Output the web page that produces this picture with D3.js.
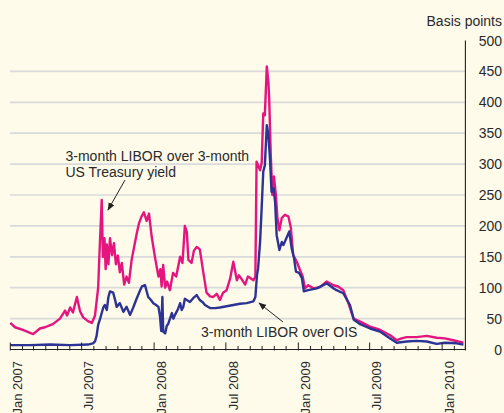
<!DOCTYPE html>
<html>
<head>
<meta charset="utf-8">
<script src="https://cdn.jsdelivr.net/npm/d3@7"></script>
<style>
    body { margin: 0; background: #fefbea; }
    svg { display: block; font-family: "Liberation Sans", Arial, sans-serif; }
</style>
</head>
<body>
<script>
// 3-month LIBOR over 3-month US Treasury yield (pink)
var tedDates = ["2007-01-01","2007-01-13","2007-01-31","2007-02-28","2007-03-17","2007-03-30","2007-04-19","2007-05-07","2007-05-20","2007-05-25",
    "2007-06-02","2007-06-09","2007-06-19","2007-06-27","2007-07-05","2007-07-17","2007-07-27","2007-08-04","2007-08-12","2007-08-15",
    "2007-08-21","2007-08-24","2007-08-28","2007-08-31","2007-09-03","2007-09-07","2007-09-11","2007-09-16","2007-09-21","2007-09-26",
    "2007-10-01","2007-10-06","2007-10-11","2007-10-17","2007-10-23","2007-10-29","2007-11-05","2007-11-11","2007-11-18","2007-11-24",
    "2007-11-30","2007-12-06","2007-12-13","2007-12-19","2007-12-26","2008-01-03","2008-01-12","2008-01-17","2008-01-20","2008-01-24",
    "2008-01-29","2008-02-03","2008-02-10","2008-02-18","2008-02-26","2008-03-07","2008-03-13","2008-03-19","2008-03-24","2008-03-28",
    "2008-04-05","2008-04-11","2008-04-18","2008-04-26","2008-05-05","2008-05-13","2008-05-22","2008-05-30","2008-06-08","2008-06-16",
    "2008-06-24","2008-07-03","2008-07-12","2008-07-20","2008-07-29","2008-08-03","2008-08-10","2008-08-19","2008-08-26","2008-08-31",
    "2008-09-09","2008-09-14","2008-09-17","2008-09-21","2008-09-26","2008-09-30","2008-10-04","2008-10-08","2008-10-13","2008-10-17",
    "2008-10-19","2008-10-23","2008-10-27","2008-10-31","2008-11-05","2008-11-09","2008-11-14","2008-11-20","2008-11-28","2008-12-07",
    "2008-12-13","2008-12-19","2008-12-28","2009-01-05","2009-01-12","2009-01-18","2009-01-26","2009-02-08","2009-02-25","2009-03-14",
    "2009-03-31","2009-04-12","2009-04-25","2009-05-08","2009-05-21","2009-06-07","2009-07-02","2009-07-27","2009-08-22","2009-09-08",
    "2009-09-20","2009-10-03","2009-10-28","2009-11-23","2009-12-18","2010-01-08","2010-01-29","2010-02-24"];
var tedValues = [43,36,32,25,34,36,41,50,63,55,
    68,60,85,62,52,46,43,55,100,150,
    242,150,180,130,170,138,180,153,172,138,
    152,125,140,105,118,108,145,165,188,205,
    215,222,208,220,182,150,118,130,102,137,
    100,110,96,124,118,150,140,200,190,145,
    140,160,166,162,124,92,86,85,90,80,
    92,96,115,142,112,120,114,105,118,116,
    112,118,304,298,290,302,382,379,458,433,
    407,315,250,280,250,213,193,213,218,215,
    197,153,142,129,118,99,104,99,101,110,
    104,102,96,75,50,45,37,32,23,15,
    18,20,20,22,19,18,15,11];

// 3-month LIBOR over OIS (blue)
var oisDates = ["2007-01-01","2007-02-20","2007-04-12","2007-06-02","2007-07-17","2007-07-30","2007-08-04","2007-08-08","2007-08-12","2007-08-17",
    "2007-08-21","2007-08-25","2007-08-29","2007-09-03","2007-09-07","2007-09-11","2007-09-19","2007-09-24","2007-09-28","2007-10-06",
    "2007-10-15","2007-10-23","2007-11-01","2007-11-09","2007-11-18","2007-11-26","2007-12-01","2007-12-09","2007-12-17","2007-12-24",
    "2007-12-30","2008-01-06","2008-01-12","2008-01-16","2008-01-19","2008-01-22","2008-01-24","2008-01-29","2008-02-02","2008-02-06",
    "2008-02-15","2008-02-19","2008-02-23","2008-03-02","2008-03-07","2008-03-11","2008-03-15","2008-03-19","2008-03-24","2008-04-01",
    "2008-04-09","2008-04-18","2008-04-26","2008-05-04","2008-05-09","2008-05-22","2008-06-04","2008-06-16","2008-07-03","2008-07-20",
    "2008-08-06","2008-08-23","2008-09-09","2008-09-14","2008-09-18","2008-09-21","2008-09-26","2008-09-30","2008-10-04","2008-10-08",
    "2008-10-13","2008-10-17","2008-10-21","2008-10-25","2008-10-30","2008-11-03","2008-11-07","2008-11-14","2008-11-20","2008-11-24",
    "2008-12-03","2008-12-09","2008-12-15","2008-12-21","2008-12-26","2009-01-03","2009-01-10","2009-01-15","2009-01-26","2009-02-17",
    "2009-03-14","2009-03-31","2009-04-08","2009-04-25","2009-05-12","2009-05-22","2009-06-07","2009-07-02","2009-07-27","2009-08-22",
    "2009-09-08","2009-10-03","2009-10-28","2009-11-23","2009-12-18","2010-01-08","2010-02-07","2010-02-24"];
var oisValues = [7,7,8,7,8,10,13,22,40,50,
    59,68,72,64,85,94,92,80,69,75,
    61,69,56,68,83,95,102,104,85,80,
    75,72,69,53,30,85,29,26,38,42,
    59,50,56,66,75,64,69,82,80,77,
    83,88,80,76,72,67,67,68,70,72,
    74,75,78,85,120,132,175,230,288,298,
    363,347,309,255,261,239,185,161,174,169,
    182,191,164,148,126,124,116,94,96,99,
    107,99,96,91,72,48,41,34,29,18,
    11,13,14,13,9,11,10,8];

var yTicks = [0,50,100,150,200,250,300,350,400,450,500];
var xLabelDates = ["2007-01-01","2007-07-01","2008-01-01","2008-07-01","2009-01-01","2009-07-01","2010-01-01"];
var xLabels = ["Jan 2007","Jul 2007","Jan 2008","Jul 2008","Jan 2009","Jul 2009","Jan 2010"];

function init(){
    var w = 504;
    var h = 413;
    var parse = d3.utcParse("%Y-%m-%d");

    var x = d3.scaleUtc()
        .domain([parse("2007-01-01"), parse("2010-03-01")])
        .range([10.3, 465.4]);
    var y = d3.scaleLinear()
        .domain([0, 500])
        .range([349.5, 40.5]);

    var svg = d3.select("body")
        .append("svg")
        .attr("width", w)
        .attr("height", h);

    svg.append("rect").attr("width", w).attr("height", h).attr("fill", "#fefbea");

    // gridlines (no line at 0 or 500)
    svg.selectAll("line.grid")
        .data(yTicks.filter(function(d){ return d > 0 && d < 500; }))
        .enter()
        .append("line")
        .attr("class", "grid")
        .attr("x1", 10)
        .attr("x2", 465.4)
        .attr("y1", function(d){ return y(d); })
        .attr("y2", function(d){ return y(d); })
        .attr("stroke", "#d9dadb")
        .attr("stroke-width", 1.7);

    // y labels on the right
    svg.selectAll("text.ylab")
        .data(yTicks)
        .enter()
        .append("text")
        .attr("class", "ylab")
        .attr("x", 502)
        .attr("y", function(d){ return y(d); })
        .attr("dy", "0.36em")
        .attr("text-anchor", "end")
        .attr("font-size", 14)
        .attr("fill", "#2a2a2a")
        .text(function(d){ return d; });

    svg.append("text")
        .attr("x", 502)
        .attr("y", 26)
        .attr("text-anchor", "end")
        .attr("font-size", 14)
        .attr("fill", "#2a2a2a")
        .text("Basis points");

    // series
    var tedData = tedDates.map(function(d, i){ return {date: parse(d), value: tedValues[i]}; });
    var oisData = oisDates.map(function(d, i){ return {date: parse(d), value: oisValues[i]}; });

    var line = d3.line()
        .x(function(d){ return x(d.date); })
        .y(function(d){ return y(d.value); });

    svg.append("path")
        .datum(tedData)
        .attr("d", line)
        .attr("fill", "none")
        .attr("stroke", "#e5157f")
        .attr("stroke-width", 2.4)
        .attr("stroke-linejoin", "round");

    svg.append("path")
        .datum(oisData)
        .attr("d", line)
        .attr("fill", "none")
        .attr("stroke", "#2c3393")
        .attr("stroke-width", 2.4)
        .attr("stroke-linejoin", "round");

    // axes
    svg.append("line")
        .attr("x1", x.range()[1]).attr("x2", x.range()[1])
        .attr("y1", y(500)).attr("y2", y(0))
        .attr("stroke", "#222").attr("stroke-width", 1.1);
    svg.append("line")
        .attr("x1", x.range()[0]).attr("x2", x.range()[1])
        .attr("y1", y(0)).attr("y2", y(0))
        .attr("stroke", "#222").attr("stroke-width", 1.2);

    var months = d3.utcMonth.range(parse("2007-01-01"), parse("2010-03-02"));
    svg.selectAll("line.xtick")
        .data(months)
        .enter()
        .append("line")
        .attr("class", "xtick")
        .attr("x1", function(d){ return x(d); })
        .attr("x2", function(d){ return x(d); })
        .attr("y1", function(d){ return d.getUTCMonth() % 6 == 0 ? y(0) - 7 : y(0) - 3.5; })
        .attr("y2", y(0) + 1)
        .attr("stroke", "#222")
        .attr("stroke-width", 1);

    // rotated month labels, the bottom of each is clipped as in the original
    svg.selectAll("text.xlab")
        .data(xLabels)
        .enter()
        .append("text")
        .attr("class", "xlab")
        .attr("transform", function(d, i){ return "translate(" + (x(parse(xLabelDates[i])) + 7) + ",361) rotate(-90)"; })
        .attr("dy", "0.36em")
        .attr("text-anchor", "end")
        .attr("font-size", 13)
        .attr("fill", "#2a2a2a")
        .text(function(d){ return d; });

    // annotations
    var defs = svg.append("defs");
    defs.append("marker")
        .attr("id", "arr")
        .attr("viewBox", "0 0 10 10")
        .attr("refX", 9).attr("refY", 5)
        .attr("markerWidth", 8).attr("markerHeight", 8)
        .attr("markerUnits", "userSpaceOnUse")
        .attr("orient", "auto")
        .append("path")
        .attr("d", "M0,1 L10,5 L0,9 Z")
        .attr("fill", "#222");

    var note1 = svg.append("text")
        .attr("font-size", 14)
        .attr("fill", "#2a2a2a");
    note1.append("tspan").attr("x", 65.5).attr("y", 160.5).text("3-month LIBOR over 3-month");
    note1.append("tspan").attr("x", 65.5).attr("y", 176.5).text("US Treasury yield");

    svg.append("line")
        .attr("x1", 125).attr("y1", 180)
        .attr("x2", 108).attr("y2", 210)
        .attr("stroke", "#222").attr("stroke-width", 1)
        .attr("marker-end", "url(#arr)");

    svg.append("text")
        .attr("x", 201)
        .attr("y", 337)
        .attr("font-size", 14)
        .attr("fill", "#2a2a2a")
        .text("3-month LIBOR over OIS");

    svg.append("line")
        .attr("x1", 283).attr("y1", 322)
        .attr("x2", 259).attr("y2", 303)
        .attr("stroke", "#222").attr("stroke-width", 1)
        .attr("marker-end", "url(#arr)");
}

window.onload = init;
</script>
</body>
</html>
